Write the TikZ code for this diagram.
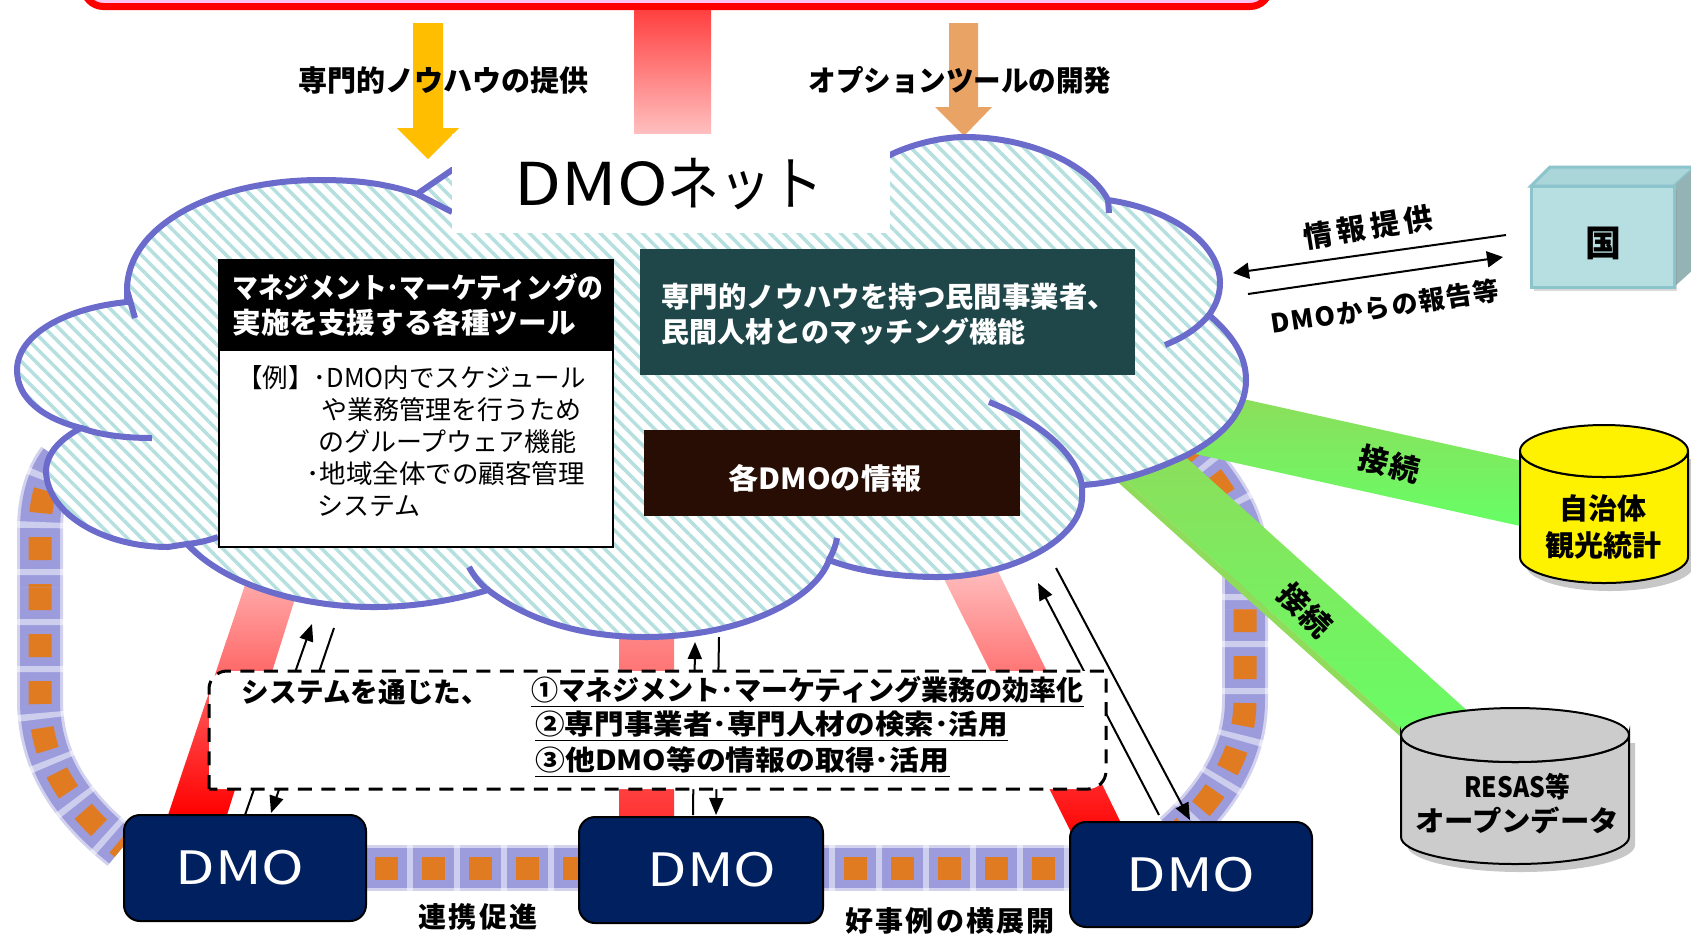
\documentclass[tikz,border=0pt]{standalone}
\usepackage{fontspec}
\setmainfont{Noto Sans CJK JP}
\usetikzlibrary{arrows.meta,patterns.meta,shadows,backgrounds}

\definecolor{cloudline}{HTML}{6B6BCB}
\definecolor{cloudstripe}{HTML}{B6E0E0}
\definecolor{chainorange}{HTML}{E07B22}
\definecolor{chainglow}{HTML}{9C9CDC}
\definecolor{navybox}{HTML}{002060}
\definecolor{tealbox}{HTML}{1F4649}
\definecolor{brownbox}{HTML}{280D05}
\definecolor{cubeface}{HTML}{B7DEE0}
\definecolor{cubetop}{HTML}{AAD6DA}
\definecolor{cubeside}{HTML}{94B3B5}
\definecolor{cubeline}{HTML}{8CC4CC}
\definecolor{barpale}{HTML}{8FDB5A}
\definecolor{barbright}{HTML}{66FF66}
\definecolor{topfill}{HTML}{FBC6F2}

\newcommand{\pxfont}[1]{\fontsize{#1}{#1}\selectfont}
\newcommand{\wide}[2]{{\addfontfeature{FakeStretch=#1}#2}}
\newcommand{\chainlink}[2]{%
  \draw[line width=23pt,color=chainglow!45] #2;
  \draw[line width=20pt,color=chainglow] #2;
  \draw[line width=24pt,color=white,opacity=.5,dash pattern=on 3pt off 20.5pt,dash phase=#1pt+7.5pt] #2;
  \draw[line width=11.5pt,color=chainorange,dash pattern=on 11.5pt off 12pt,dash phase=#1pt] #2;
}
\newcommand{\drum}[6]{%
  \fill[black,opacity=.22] (#1+6,#2+8) -- (#1+6,#5+8) arc[start angle=180,end angle=0,x radius=#3,y radius=#4] -- (#1+6+2*#3,#2+8) -- cycle;
  \draw[black,line width=1pt,fill=#6] (#1,#2) -- (#1,#5) arc[start angle=180,end angle=0,x radius=#3,y radius=#4] -- (#1+2*#3,#2) arc[start angle=0,end angle=180,x radius=#3,y radius=#4] -- cycle;
  \draw[black,line width=1pt,fill=#6] (#1+#3,#2) ellipse[x radius=#3,y radius=#4];
}

\tikzset{
  dmobox/.style={draw=black,line width=1pt,fill=navybox,rounded corners=8pt,text=white,inner sep=0pt,font=\pxfont{23}},
  softshadow/.style={drop shadow={shadow xshift=1.5pt,shadow yshift=-2pt,opacity=.3}},
  jiku/.style={font=\bfseries\pxfont{14.5}},
  smallarrow/.style={line width=1pt,-{Triangle[length=8.5pt,width=7pt]}},
  dataarrow/.style={line width=1pt,-{Triangle[length=8pt,width=8pt]}},
  cloudtail/.style={cloudline,line width=3pt},
  darkbox/.style={inner sep=0pt,text=white},
  listline/.style={anchor=west,inner sep=0pt,font=\pxfont{13}},
  dashline/.style={anchor=west,inner sep=0pt,font=\bfseries\pxfont{13.8}}
}

\begin{document}
\begin{tikzpicture}[x=0.5pt,y=-0.5pt]
    \clip (0,0) rectangle (1691,934);

    \node[dmobox,minimum width=121pt,minimum height=53pt] (dmoA) at (245,868) {\wide{1.25}{DMO}\hspace{5pt}\mbox{}};
    \node[dmobox,minimum width=122pt,minimum height=53pt] (dmoB) at (701,870) {\hspace{11pt}\wide{1.25}{DMO}};
    \node[dmobox,minimum width=121pt,minimum height=52.5pt] (dmoC) at (1191,874.5) {\wide{1.25}{DMO}};

    \drum{1520}{451}{84}{26}{557}{yellow}
    \drum{1401}{735}{114}{27}{837}{black!20}

    \begin{pgfonlayer}{background}
      \chainlink{0}{(40,587) -- (40,700) .. controls (40,765) and (75,810) .. (122,848)}
      \chainlink{10}{(40,587) -- (40,530) .. controls (40,505) and (45,480) .. (60,460)}
      \chainlink{19.5}{(dmoA.east) -- (dmoA.east -| dmoB.west)}
      \chainlink{13.5}{(dmoB.east |- dmoA.east) -- (dmoA.east -| dmoC.west)}
      \chainlink{0}{(1245,609) -- (1245,700) .. controls (1245,745) and (1225,790) .. (1175,835)}
      \chainlink{11.5}{(1245,609) -- (1245,560) .. controls (1245,530) and (1235,500) .. (1190,450)}

      \begin{scope}[shift={(1190,420)},rotate=-12.5]
        \shade[top color=barpale,middle color=barbright,bottom color=barbright] (0,-32) rectangle (352,32);
      \end{scope}
      \begin{scope}[shift={(1130,450)},rotate=-42]
        \shade[top color=barpale,middle color=barbright,bottom color=barbright] (0,-32) rectangle (430,26);
        \fill[barpale] (0,26) rectangle (430,32);
      \end{scope}

      \shade[top color=red!30,bottom color=red] (250,570) -- (304,570) -- (227,815) -- (168,815) -- cycle;
      \shade[top color=red!45,bottom color=red!80] (619,620) rectangle (674,817);
      \shade[top color=red!22,bottom color=red] (932,555) -- (990,555) -- (1122,825) -- (1075,840) -- cycle;
    \end{pgfonlayer}

    \draw[red,line width=3.5pt,fill=topfill,rounded corners=10pt] (83.5,-30) rectangle (1270,6.5);
    \shade[top color=red!75,bottom color=red!25] (634,10) rectangle (711,134);
    \fill[orange!50!yellow] (413,23) -- (443,23) -- (443,128) -- (459,128) -- (428,159) -- (397,128) -- (413,128) -- cycle;
    \fill[chainorange!70!white] (949,23) -- (978,23) -- (978,107) -- (992,107) -- (964,136) -- (935,107) -- (949,107) -- cycle;

    \fill[white] (452,170) -- (417,194)
      .. controls (385,183) and (355,180) .. (320,180) .. controls (215,180) and (127,225) .. (127,290) -- (127,302)
      .. controls (65,308) and (17,335) .. (17,370) .. controls (17,398) and (42,418) .. (81,428)
      .. controls (58,440) and (46,455) .. (46,472) .. controls (48,515) and (105,547) .. (168,547) -- (187,544)
      .. controls (225,585) and (300,607) .. (374,607) .. controls (415,607) and (455,600) .. (488,590)
      .. controls (530,622) and (585,637) .. (645,637) .. controls (740,637) and (815,600) .. (829,560)
      .. controls (860,572) and (900,577) .. (938,577) .. controls (1010,577) and (1082,540) .. (1082,497) -- (1082,485)
      .. controls (1120,483) and (1155,470) .. (1187,455) .. controls (1225,435) and (1246,410) .. (1246,380)
      .. controls (1246,355) and (1232,335) .. (1209,315) .. controls (1216,305) and (1220,295) .. (1220,283)
      .. controls (1220,245) and (1175,210) .. (1108,200) .. controls (1090,165) and (1030,137) .. (965,137)
      .. controls (940,137) and (910,145) .. (890,155) -- cycle;
    \draw[cloudtail,pattern={Lines[angle=-45,distance=5pt,line width=1.75pt]},pattern color=cloudstripe] (452,170) -- (417,194)
      .. controls (385,183) and (355,180) .. (320,180) .. controls (215,180) and (127,225) .. (127,290) -- (127,302)
      .. controls (65,308) and (17,335) .. (17,370) .. controls (17,398) and (42,418) .. (81,428)
      .. controls (58,440) and (46,455) .. (46,472) .. controls (48,515) and (105,547) .. (168,547) -- (187,544)
      .. controls (225,585) and (300,607) .. (374,607) .. controls (415,607) and (455,600) .. (488,590)
      .. controls (530,622) and (585,637) .. (645,637) .. controls (740,637) and (815,600) .. (829,560)
      .. controls (860,572) and (900,577) .. (938,577) .. controls (1010,577) and (1082,540) .. (1082,497) -- (1082,485)
      .. controls (1120,483) and (1155,470) .. (1187,455) .. controls (1225,435) and (1246,410) .. (1246,380)
      .. controls (1246,355) and (1232,335) .. (1209,315) .. controls (1216,305) and (1220,295) .. (1220,283)
      .. controls (1220,245) and (1175,210) .. (1108,200) .. controls (1090,165) and (1030,137) .. (965,137)
      .. controls (940,137) and (910,145) .. (890,155) -- cycle;
    \draw[cloudtail] (127,290) -- (135,318);
    \draw[cloudtail] (81,428) .. controls (100,435) and (125,438) .. (152,438);
    \draw[cloudtail] (187,544) .. controls (197,543) and (207,541) .. (218,537);
    \draw[cloudtail] (488,590) .. controls (480,584) and (474,576) .. (469,567);
    \draw[cloudtail] (829,560) .. controls (833,552) and (836,545) .. (837,538);
    \draw[cloudtail] (1082,485) .. controls (1075,450) and (1035,420) .. (989,402);
    \draw[cloudtail] (1209,315) .. controls (1196,330) and (1182,338) .. (1165,345);
    \draw[cloudtail] (1108,200) -- (1109,213);
    \draw[cloudtail] (417,194) -- (452,212);

    \fill[white] (452,134) rectangle (890,233);
    \node[font=\pxfont{29.5},inner sep=0pt] (netTitle) at (669,184) {\wide{1.16}{DMO}\wide{0.88}{ネット}};

    \node[fill=white,draw=black,line width=1pt,minimum width=197pt,minimum height=98.5pt,inner sep=0pt] (toolBody) at (416,448.5) {};
    \node[fill=black,draw=black,line width=1pt,minimum width=197pt,minimum height=45pt,inner sep=0pt] (toolHead) at (416,305) {};
    \node[anchor=west,darkbox,font=\bfseries\pxfont{14.3}] (toolA) at (232,287) {\wide{0.9}{マネジメント･マーケティングの}};
    \node[anchor=west,darkbox,font=\bfseries\pxfont{14.3}] (toolB) at (232,322) {実施を支援する各種ツール};
    \node[listline] (listA) at (237,378) {\wide{0.98}{【例】･DMO内でスケジュール}};
    \node[listline] (listB) at (321,410) {や業務管理を行うため};
    \node[listline] (listC) at (318,442) {のグループウェア機能};
    \node[listline] (listD) at (306,474) {\wide{1.02}{･地域全体での顧客管理}};
    \node[listline] (listE) at (317,506) {システム};

    \node[fill=tealbox,minimum width=247.5pt,minimum height=63pt,inner sep=0pt] (tealPanel) at (887.5,312) {};
    \node[anchor=west,darkbox,font=\bfseries\pxfont{14.2}] (tealA) at (661,297) {専門的ノウハウを持つ民間事業者、};
    \node[anchor=west,darkbox,font=\bfseries\pxfont{14}] (tealB) at (661,332) {民間人材とのマッチング機能};
    \node[fill=brownbox,darkbox,minimum width=188pt,minimum height=43pt] (brownPanel) at (832,473) {};
    \node[darkbox,font=\bfseries\pxfont{14.5}] (brownText) at (825,478) {\wide{1.04}{各DMOの情報}};

    \coordinate (upAs) at (245,815);
    \coordinate (upAe) at (312,624);
    \coordinate (dnAs) at (334,628);
    \coordinate (dnAe) at (271,813);
    \coordinate (upBs) at (693,815);
    \coordinate (upBe) at (695,642);
    \coordinate (dnBs) at (719,637);
    \coordinate (dnBe) at (716,815);
    \coordinate (upCs) at (1159,815);
    \coordinate (upCe) at (1038,583);
    \coordinate (dnCs) at (1056,568);
    \coordinate (dnCe) at (1190,820);
    \coordinate (govOuts) at (1506,235);
    \coordinate (govOute) at (1233,273);
    \coordinate (govIns) at (1248,294);
    \coordinate (govIne) at (1503,257);

    \draw[smallarrow] (upAs) -- (upAe);
    \draw[smallarrow] (dnAs) -- (dnAe);
    \draw[smallarrow] (upBs) -- (upBe);
    \draw[smallarrow] (dnBs) -- (dnBe);
    \draw[smallarrow] (upCs) -- (upCe);
    \draw[smallarrow] (dnCs) -- (dnCe);

    \draw[black,line width=1.5pt,fill=white,dash pattern=on 7pt off 4.8pt] (209,789) [rounded corners=9pt] -- (209,671) [sharp corners] -- (1106,671) [rounded corners=9pt] -- (1106,789) [sharp corners] -- cycle;
    \node[dashline] (sysText) at (241,692) {システムを通じた、};
    \node[dashline] (sysOne) at (531,692) {\underline{\wide{0.98}{①マネジメント･マーケティング業務の効率化}}};
    \node[dashline] (sysTwo) at (535,726) {\underline{\wide{1.07}{②専門事業者･専門人材の検索･活用}}};
    \node[dashline] (sysThree) at (535,762) {\underline{\wide{1.08}{③他DMO等の情報の取得･活用}}};

    \fill[cubetop,draw=cubeline,line width=1.5pt] (1531,186) -- (1550,167) -- (1695,167) -- (1674,186) -- cycle;
    \fill[cubeside] (1674,186) -- (1695,167) -- (1695,268) -- (1674,287) -- cycle;
    \node[fill=cubeface,draw=cubeline,line width=1.5pt,minimum width=71.5pt,minimum height=50.5pt,inner sep=0pt,softshadow] (kuni) at (1602.5,236.5) {};
    \node[font=\bfseries\pxfont{18},inner sep=0pt] (kuniText) at (1603,243) {国};

    \draw[dataarrow] (govOuts) -- (govOute);
    \draw[dataarrow] (govIns) -- (govIne);
    \node[rotate=9,inner sep=0pt,font=\bfseries\pxfont{14.5}\addfontfeature{LetterSpace=16}] (infoLabel) at (1368,227) {情報提供};
    \node[rotate=8.5,inner sep=0pt,font=\bfseries\pxfont{13}\addfontfeature{LetterSpace=6}] (reportLabel) at (1385,307) {DMOからの報告等};

    \node[jiku,inner sep=0pt] (howLabel) at (443,80) {専門的ノウハウの提供};
    \node[jiku,inner sep=0pt] (optLabel) at (960,80) {\wide{0.95}{オプションツールの開発}};
    \node[inner sep=0pt,font=\bfseries\pxfont{14}\addfontfeature{LetterSpace=8}] (renkeiLabel) at (478,917) {連携促進};
    \node[inner sep=0pt,font=\bfseries\pxfont{14}\addfontfeature{LetterSpace=8}] (yokoLabel) at (950,921) {好事例の横展開};
    \node[rotate=-14,inner sep=0pt,font=\bfseries\pxfont{15}\addfontfeature{LetterSpace=6}] (linkA) at (1389,464) {接続};
    \node[rotate=-45,inner sep=0pt,font=\bfseries\pxfont{15}\addfontfeature{LetterSpace=6}] (linkB) at (1305,610) {接続};

    \node[font=\bfseries\pxfont{14.5},align=center,inner sep=0pt] (jichitaiText) at (1603,527) {自治体\\[4pt]観光統計};
    \node[font=\bfseries\pxfont{14},align=center,inner sep=0pt] (resasText) at (1517,804) {\wide{0.88}{RESAS等}\\[3pt]\wide{1.05}{オープンデータ}};
\end{tikzpicture}
\end{document}
